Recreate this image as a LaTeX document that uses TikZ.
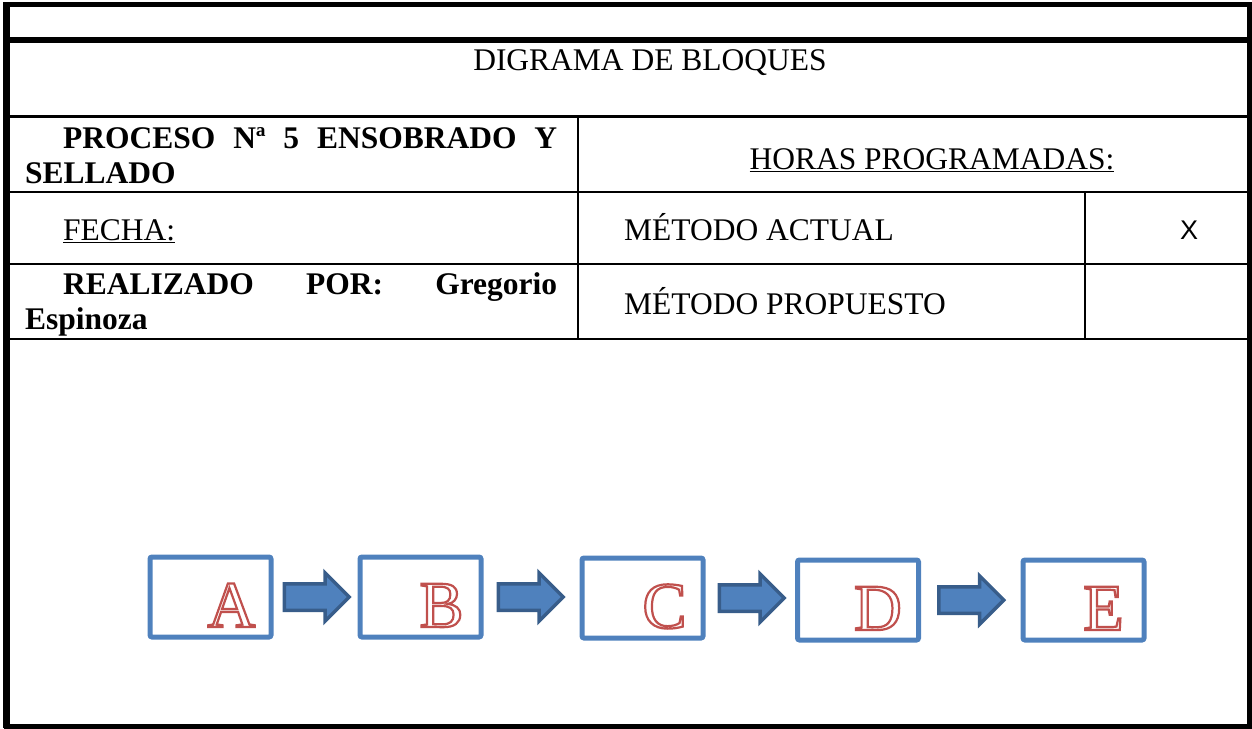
\documentclass[tikz,border=0pt]{standalone}
\usepackage{fontspec}
\setmainfont{Liberation Serif}
\newfontfamily\arial{Liberation Sans}
\usepackage{tikz}
\usetikzlibrary{positioning,shapes.arrows}

\definecolor{azulcaja}{HTML}{4F81BD}
\definecolor{azulborde}{HTML}{385D8A}
\definecolor{rojoletra}{HTML}{C0504D}
\newcommand{\grabado}[1]{\textcolor{rojoletra}{\special{pdf:literal direct 1 Tr 2.2 w}#1\special{pdf:literal direct 0 Tr 1 w}}}

\tikzset{
  caja/.style={draw=azulcaja, line width=5pt, rounded corners=2pt, minimum width=121pt, minimum height=80pt, inner sep=0pt},
  flecha/.style={single arrow, draw=azulborde, fill=azulcaja, line width=3.5pt, minimum height=65pt, inner xsep=0pt, inner ysep=11.5pt, single arrow head extend=11pt},
  letra/.style={font=\fontsize{66}{66}\selectfont, inner sep=0pt, anchor=base},
  texto/.style={font=\fontsize{31.5}{35}\selectfont, inner sep=0pt, anchor=base west},
  negrita/.style={font=\fontsize{31.5}{35}\selectfont\bfseries, inner sep=0pt, anchor=base west, text width=532pt, align=justify},
  linea/.style={line width=2.5pt}
}

\begin{document}
\begin{tikzpicture}[x=1pt,y=-1pt]
\useasboundingbox (0,0) rectangle (1252,728);

% marco
\draw[line width=5pt] (6,4.5) rectangle (1249,726);
\draw[line width=7pt] (6.5,2) -- (6.5,728);
\draw[line width=6pt] (10,39.5) -- (1249,39.5);
\draw[linea] (10,116.5) -- (1249,116.5);
\draw[linea] (10,192) -- (1249,192);
\draw[linea] (10,264) -- (1249,264);
\draw[linea] (10,339) -- (1249,339);
\draw[linea] (578,116.5) -- (578,339);
\draw[linea] (1085,192) -- (1085,339);

% textos
\node[texto, anchor=base] (titulo) at (650,70) {DIGRAMA DE BLOQUES};
\node[negrita] (proceso) at (25,148) {\hspace*{38pt}PROCESO Nª 5 ENSOBRADO Y\linebreak SELLADO};
\node[texto, anchor=base] (horas) at (932,169) {\underline{HORAS PROGRAMADAS:}};
\node[texto] (fecha) at (63,240) {\underline{FECHA:}};
\node[texto] (actual) at (624,240) {MÉTODO ACTUAL};
\node[anchor=base, inner sep=0pt, font=\arial\fontsize{27}{27}\selectfont] (marca) at (1189,239) {X};
\node[negrita] (realizado) at (25,294) {\hspace*{38pt}REALIZADO POR: Gregorio\linebreak Espinoza};
\node[texto] (propuesto) at (624,314) {MÉTODO PROPUESTO};

% bloques
\node[caja] (a) at (210.5,597) {};
\node[caja] (b) at (420.5,597) {};
\node[caja] (c) at (642.5,598) {};
\node[caja] (d) at (858,600) {};
\node[caja] (e) at (1083.5,600) {};

\node[letra] (la) at ([xshift=21pt,yshift=-30pt]a.center) {\grabado{A}};
\node[letra] (lb) at ([xshift=21pt,yshift=-30pt]b.center) {\grabado{B}};
\node[letra] (lc) at ([xshift=22pt,yshift=-30pt]c.center) {\grabado{C}};
\node[letra] (ld) at ([xshift=20pt,yshift=-30pt]d.center) {\grabado{D}};
\node[letra] (le) at ([xshift=20pt,yshift=-30pt]e.center) {\grabado{E}};

\node[flecha, right=9pt of a] (ab) {};
\node[flecha, right=13pt of b] (bc) {};
\node[flecha, right=12pt of c] (cd) {};
\node[flecha, right=16pt of d] (de) {};
\end{tikzpicture}
\end{document}
